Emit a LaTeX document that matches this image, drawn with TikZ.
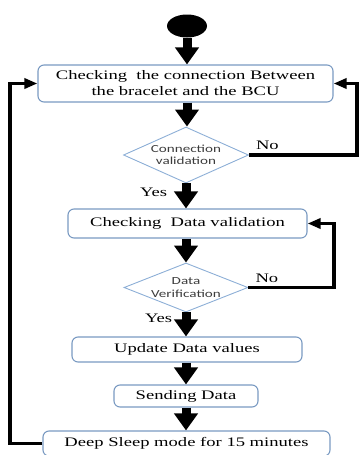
\documentclass[tikz,border=0pt]{standalone}
\usepackage{fontspec}
\setmainfont{Liberation Serif}[FakeStretch=1.43]
\newfontfamily\diafont{Carlito}[FakeStretch=1.4]
\usetikzlibrary{shapes.geometric,arrows.meta}

\definecolor{boxblue}{RGB}{122,154,194}
\definecolor{diablue}{RGB}{140,174,214}
\definecolor{diatext}{RGB}{60,60,60}

\tikzset{
	box/.style={draw=boxblue, line width=1.1pt, rounded corners=6pt, align=center, inner sep=0pt, font=\fontsize{13}{16}\selectfont},
	check/.style={diamond, aspect=2.3, draw=diablue, line width=0.9pt, inner sep=0pt, align=center, text=diatext, font=\diafont\fontsize{10.8}{12.5}\selectfont},
	flow/.style={line width=9pt, -{Triangle[width=23pt,length=17pt]}},
	back/.style={line width=3.5pt, -{Triangle[width=10pt,length=13pt]}},
	answer/.style={font=\fontsize{13}{16}\selectfont}
}

\begin{document}
\begin{tikzpicture}[x=1pt, y=-1pt]
	% Page window
	\useasboundingbox (0,0) rectangle (359,455);
	
	% Rails of the two return loops
	\coordinate (leftrail) at (10,0);
	\coordinate (rightrail) at (357,0);
	\coordinate (datarail) at (334,0);
	
	% Start point
	\node[ellipse, fill=black, minimum width=40pt, minimum height=23pt, inner sep=0pt] (start) at (187,26) {};
	
	% Steps and decisions
	\node[box, minimum width=295pt, minimum height=37pt] (link) at (185.5,83.5)
		{Checking\ \ the connection Between\\the bracelet and the BCU};
	\node[check, minimum width=125pt, minimum height=56pt] (linkok) at (186,155) {Connection\\validation};
	\node[box, minimum width=239pt, minimum height=29pt] (data) at (187.5,223.5) {Checking\ \ Data validation};
	\node[check, minimum width=124pt, minimum height=49pt, inner ysep=-2pt] (dataok) at (186,287.5) {Data\\Verification};
	\node[box, minimum width=230pt, minimum height=25pt] (update) at (187,349.5) {Update Data values};
	\node[box, minimum width=144pt, minimum height=22pt] (send) at (186,396) {Sending Data};
	\node[box, minimum width=287pt, minimum height=25pt] (sleep) at (186.5,443.5) {Deep Sleep mode for 15 minutes};
	
	% Main flow downwards
	\draw[flow] (start.south) -- (start.south |- link.north);
	\draw[flow] (link.south -| 187,0) -- (linkok.north -| 187,0);
	\draw[flow] (linkok.south) -- (linkok.south |- data.north)
		node[answer, pos=0.35, left=11pt] {Yes};
	\draw[flow] (data.south -| dataok.north) -- (dataok.north);
	\draw[flow] (dataok.south) -- (dataok.south |- update.north)
		node[answer, pos=0.24, left=6pt] {Yes};
	\draw[flow] (update.south -| send.north) -- (send.north);
	\draw[flow] (send.south) -- (send.south |- sleep.north);
	
	% No: back to the connection check
	\draw[back] (linkok.east) node[answer, anchor=south west, xshift=2pt, yshift=0pt] {No}
		-- (linkok.east -| rightrail) |- (link.east);
	
	% No: check the data again
	\draw[back] (dataok.east) node[answer, anchor=south west, xshift=2pt, yshift=0pt] {No}
		-- (dataok.east -| datarail) |- (data.east);
	
	% After sleeping start over
	\draw[back] (sleep.west) -- (sleep.west -| leftrail) |- (link.west);
	
\end{tikzpicture}
\end{document}
